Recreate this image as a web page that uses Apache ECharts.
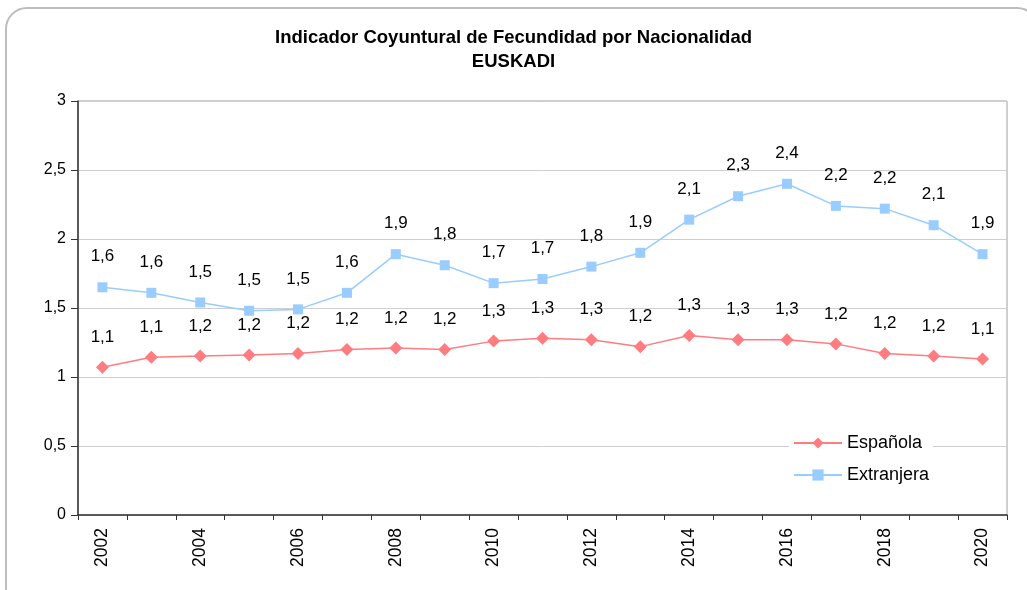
<!DOCTYPE html>
<html>
<head>
<meta charset="utf-8">
<script src="https://cdn.jsdelivr.net/npm/echarts@6/dist/echarts.min.js"></script>
<style>
  html, body { margin: 0; padding: 0; background: #fff; }
  #frame {
    position: absolute; left: 5px; top: 7px;
    width: 1030px; height: 600px;
    border: 2px solid #bdbdbd; border-radius: 22px;
  }
  #chart { position: absolute; left: 0; top: 0; width: 1027px; height: 590px; }
</style>
</head>
<body>
<div id="frame"></div>
<div id="chart"></div>
<script>
// años
var years = ['2002', '2003', '2004', '2005', '2006', '2007', '2008', '2009', '2010',
  '2011', '2012', '2013', '2014', '2015', '2016', '2017', '2018', '2019', '2020'];
// nacionalidad española
var espanola = [1.07, 1.143, 1.152, 1.16, 1.17, 1.20, 1.21, 1.20, 1.26,
  1.28, 1.27, 1.22, 1.30, 1.27, 1.27, 1.24, 1.17, 1.152, 1.13];
// nacionalidad extranjera
var extranjera = [1.65, 1.61, 1.54, 1.48, 1.49, 1.61, 1.89, 1.81, 1.68,
  1.71, 1.80, 1.90, 2.14, 2.31, 2.40, 2.24, 2.22, 2.10, 1.89];

function coma(v) {
  return String(v).replace('.', ',');
}

var chart = echarts.init(document.getElementById('chart'));
var fuente = 'Liberation Sans, Arial, sans-serif';

chart.setOption({
  animation: false,
  textStyle: { fontFamily: fuente },
  title: {
    text: 'Indicador Coyuntural de Fecundidad por Nacionalidad\nEUSKADI',
    left: 'center',
    top: 26,
    padding: [0, 0, 0, 17],
    textStyle: {
      fontFamily: fuente,
      fontSize: 18.5,
      fontWeight: 'bold',
      color: '#000',
      lineHeight: 24
    }
  },
  legend: {
    orient: 'vertical',
    left: 789,
    top: 430,
    padding: [4, 4, 4, 4],
    backgroundColor: '#fff',
    itemWidth: 48,
    itemHeight: 14,
    itemGap: 14,
    textStyle: { fontSize: 18, color: '#000' },
    data: ['Española', 'Extranjera']
  },
  grid: {
    left: 78,
    right: 20,
    top: 101,
    bottom: 75,
    show: true,
    borderColor: '#a0a0a0',
    borderWidth: 1
  },
  xAxis: {
    type: 'category',
    data: years,
    boundaryGap: true,
    axisLine: { lineStyle: { color: '#333', width: 1.5 } },
    axisTick: { show: true, interval: 0, length: 5, lineStyle: { color: '#333' } },
    axisLabel: {
      interval: 1,
      rotate: 90,
      margin: 13,
      fontSize: 17.5,
      color: '#000'
    }
  },
  yAxis: {
    type: 'value',
    min: 0,
    max: 3,
    interval: 0.5,
    axisLine: { show: true, lineStyle: { color: '#333', width: 1.5 } },
    axisTick: { show: true, length: 7, lineStyle: { color: '#333' } },
    axisLabel: {
      fontSize: 16,
      color: '#000',
      margin: 12,
      formatter: function (v) { return coma(v); }
    },
    splitLine: { lineStyle: { color: '#cfcfcf', width: 1 } }
  },
  series: [
    {
      name: 'Española',
      type: 'line',
      data: espanola,
      symbol: 'diamond',
      symbolSize: 13,
      itemStyle: { color: '#ff7c80' },
      lineStyle: { color: '#ff7c80', width: 1.5 },
      label: {
        show: true,
        position: 'top',
        distance: 15,
        fontSize: 17,
        color: '#000',
        formatter: function (p) { return coma(p.value.toFixed(1)); }
      }
    },
    {
      name: 'Extranjera',
      type: 'line',
      data: extranjera,
      symbol: 'rect',
      symbolSize: 10,
      itemStyle: { color: '#99ccff' },
      lineStyle: { color: '#99ccff', width: 1.5 },
      label: {
        show: true,
        position: 'top',
        distance: 17,
        fontSize: 17,
        color: '#000',
        formatter: function (p) { return coma(p.value.toFixed(1)); }
      }
    }
  ]
});
</script>
</body>
</html>
